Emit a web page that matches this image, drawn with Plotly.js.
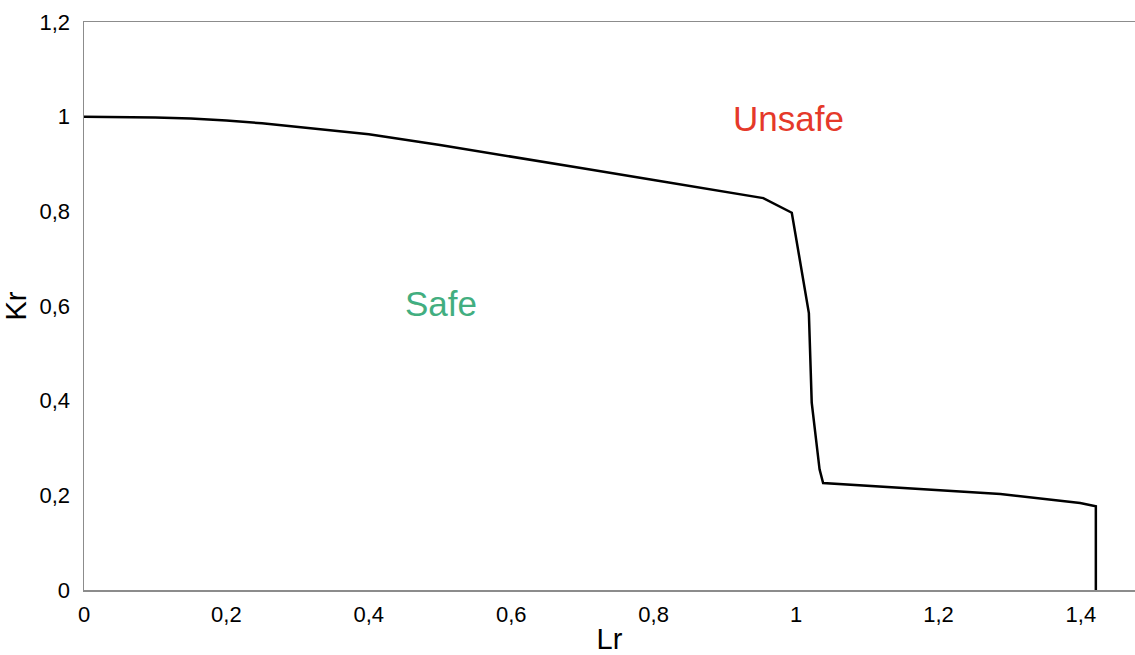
<!DOCTYPE html>
<html>
<head>
<meta charset="utf-8">
<script src="https://cdn.plot.ly/plotly-3.0.1.min.js"></script>
<style>html,body{margin:0;padding:0;background:#fff;}#chart{width:1135px;height:655px;}</style>
</head>
<body>
<div id="chart"></div>
<script>
// Failure assessment curve (Lr, Kr)
const lr = [0, 0.05, 0.1, 0.15, 0.2, 0.25, 0.3, 0.35, 0.4, 0.5, 0.6, 0.7, 0.8, 0.9, 0.954, 0.994, 1.006, 1.018, 1.022, 1.029, 1.033, 1.038, 1.146, 1.287, 1.399, 1.421, 1.421];
const kr = [1.0, 0.9995, 0.998, 0.996, 0.992, 0.986, 0.978, 0.971, 0.963, 0.940, 0.916, 0.891, 0.866, 0.842, 0.828, 0.797, 0.691, 0.585, 0.396, 0.302, 0.255, 0.226, 0.216, 0.203, 0.184, 0.177, 0];

const labelText = ["Unsafe", "Safe"];
const labelX = [0.99, 0.501];
const labelY = [0.997, 0.606];
const labelColor = ["#e5392a", "#42ae80"];

const xTitle = "Lr";
const yTitle = "Kr";

const trace = {
  x: lr, y: kr, type: "scatter", mode: "lines",
  line: {color: "#000000", width: 2.5},
  hoverinfo: "skip", showlegend: false
};

const annotations = labelText.map((t, i) => ({
  x: labelX[i], y: labelY[i], xref: "x", yref: "y", text: t, showarrow: false,
  font: {family: "Liberation Sans, Arial, sans-serif", size: 35, color: labelColor[i]}
}));

const layout = {
  width: 1135, height: 655,
  margin: {l: 84, r: 0, t: 22, b: 65},
  paper_bgcolor: "#ffffff", plot_bgcolor: "#ffffff",
  separators: ", ",
  font: {family: "Liberation Sans, Arial, sans-serif", color: "#000000", size: 22},
  xaxis: {
    range: [0, 1.476], dtick: 0.2, tick0: 0, showgrid: false, zeroline: false,
    showline: true, linecolor: "#8c8c8c", linewidth: 1.5, mirror: true,
    ticks: "outside", ticklen: 4, tickcolor: "rgba(0,0,0,0)",
    tickfont: {size: 22},
    title: {text: xTitle, font: {size: 29}, standoff: 4}
  },
  yaxis: {
    range: [0, 1.2], dtick: 0.2, tick0: 0, showgrid: false, zeroline: false,
    showline: true, linecolor: "#8c8c8c", linewidth: 1.5,
    ticks: "outside", ticklen: 8, tickcolor: "rgba(0,0,0,0)",
    tickfont: {size: 22},
    title: {text: yTitle, font: {size: 29}, standoff: 8}
  },
  annotations: annotations
};

Plotly.newPlot("chart", [trace], layout, {displayModeBar: false, staticPlot: true});
</script>
</body>
</html>
